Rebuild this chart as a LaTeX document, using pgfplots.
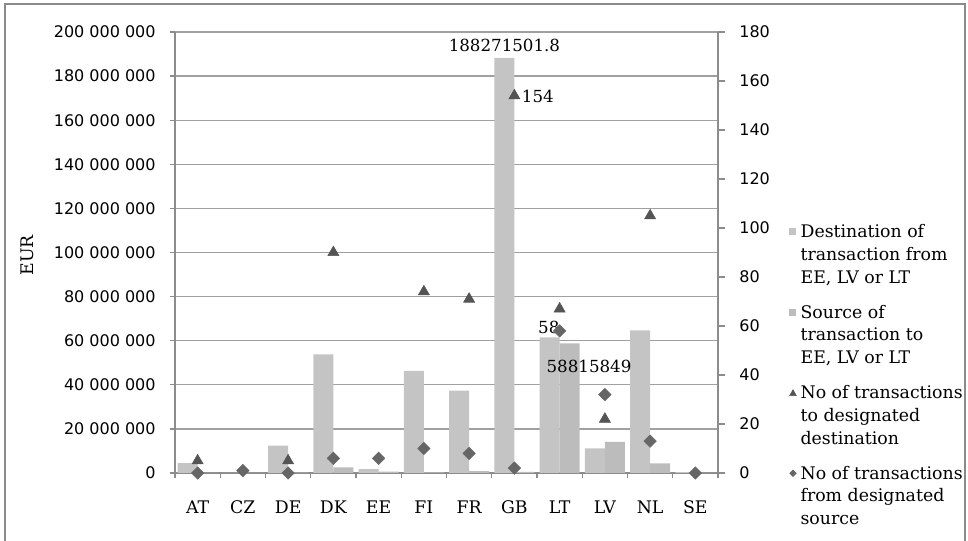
\documentclass[border=0pt]{standalone}
\usepackage{pgfplots}
\pgfplotsset{compat=1.18}
\usepackage{pgfplotstable}
\usepackage{fontspec}
\setmainfont{DejaVu Serif}
\newfontfamily\numfont{DejaVu Sans}

\definecolor{barA}{HTML}{C4C4C4}
\definecolor{barB}{HTML}{BCBCBC}
\definecolor{triC}{HTML}{545454}
\definecolor{diaC}{HTML}{666666}
\definecolor{gridC}{HTML}{A0A0A0}
\definecolor{axisC}{HTML}{8C8C8C}
\definecolor{frameC}{HTML}{8A8A8A}

% idx: AT CZ DE DK EE FI FR GB LT LV NL SE
\pgfplotstableread{
idx dest        src       to   from
0   4.5e6       0         5    0
1   0           0         nan  1
2   12.4e6      0.2e6     5    0
3   53.8e6      2.6e6     90   6
4   1.8e6       0.6e6     nan  6
5   46.3e6      0.3e6     74   10
6   37.3e6      0.8e6     71   8
7   188271501.8 0.5e6     154  2
8   61.5e6      58815849  67   58
9   11.2e6      14.1e6    22   32
10  64.7e6      4.4e6     105  13
11  0.4e6       0         nan  0
}\data

\begin{document}
\begin{tikzpicture}
\useasboundingbox (0,0) rectangle (726pt,405.75pt);
\draw[frameC, line width=1.5pt] (3.75pt,-3pt) rectangle (723.75pt,402.75pt);

\begin{axis}[
    scale only axis, width=407.25pt, height=330.75pt,
    at={(131.25pt,51pt)}, anchor=south west,
    xmin=-0.5, xmax=11.5, ymin=0, ymax=200e6,
    axis x line*=bottom, axis y line*=left,
    axis line style={axisC, line width=1pt},
    tick style={axisC, line width=1pt},
    tick align=outside, major tick length=4pt,
    xtick={-0.5,0.5,...,11.5}, xticklabels={},
    extra x ticks={0,1,2,3,4,5,6,7,8,9,10,11},
    extra x tick labels={AT,CZ,DE,DK,EE,FI,FR,GB,LT,LV,NL,SE},
    extra x tick style={major tick length=0pt},
    x tick label style={font=\fontsize{13}{15}\selectfont, yshift=-17.5pt},
    ytick={0,20e6,40e6,60e6,80e6,100e6,120e6,140e6,160e6,180e6,200e6},
    yticklabels={0,20 000 000,40 000 000,60 000 000,80 000 000,100 000 000,120 000 000,140 000 000,160 000 000,180 000 000,200 000 000},
    scaled y ticks=false,
    y tick label style={font=\numfont\fontsize{12}{14}\selectfont, xshift=-7pt},
    ymajorgrids=true, grid style={gridC, line width=1pt},
    ylabel={EUR},
    ylabel style={font=\fontsize{13}{15}\selectfont, at={(axis description cs:-0.2726,0.494)}, anchor=center},
    ybar=0pt, bar width=15pt,
]
\addplot[fill=barA, draw=none] table[x=idx, y=dest] {\data};
\addplot[fill=barB, draw=none] table[x=idx, y=src] {\data};
\node[font=\fontsize{12.5}{14}\selectfont, inner sep=0pt] at (axis cs:6.78,194.1e6) {188271501.8};
\node[font=\fontsize{12.5}{14}\selectfont, inner sep=0pt] at (axis cs:8.65,48.2e6) {58815849};
\end{axis}

\begin{axis}[
    scale only axis, width=407.25pt, height=330.75pt,
    at={(131.25pt,51pt)}, anchor=south west,
    xmin=-0.5, xmax=11.5, ymin=0, ymax=180,
    axis x line=none, axis y line*=right,
    axis line style={axisC, line width=1pt},
    tick style={axisC, line width=1pt},
    tick align=outside, major tick length=5pt,
    ytick={0,20,40,60,80,100,120,140,160,180},
    yticklabels={0,20,40,60,80,100,120,140,160,180},
    y tick label style={font=\numfont\fontsize{12}{14}\selectfont, xshift=7.5pt},
    legend style={at={(axis description cs:1.131,0.567)}, anchor=north west,
        draw=none, fill=none, inner sep=0pt, row sep=13pt, column sep=2pt,
        font=\fontsize{13}{17}\selectfont,
        cells={anchor=base west}, nodes={align=left, inner sep=1pt}},
]
\addlegendimage{legend image code/.code={\fill[barA] (0pt,36.25pt) rectangle (4.5pt,40.75pt);}}
\addlegendentry{Destination of\\transaction from\\EE, LV or LT}
\addlegendimage{legend image code/.code={\fill[barB] (0pt,36.25pt) rectangle (4.5pt,40.75pt);}}
\addlegendentry{Source of\\transaction to\\EE, LV or LT}
\addlegendimage{legend image code/.code={\fill[triC] (2.5pt,40.8pt) -- (0pt,36.3pt) -- (5pt,36.3pt) -- cycle;}}
\addlegendentry{No of transactions\\to designated\\destination}
\addlegendimage{legend image code/.code={\fill[diaC] (2.5pt,41pt) -- (0pt,38.5pt) -- (2.5pt,36pt) -- (5pt,38.5pt) -- cycle;}}
\addlegendentry{No of transactions\\from designated\\source}
\addplot[forget plot, only marks, mark=triangle*, mark size=4.8pt, color=triC] table[x=idx, y=to] {\data};
\addplot[forget plot, only marks, mark=square*, mark size=3.3pt, mark options={rotate=45}, color=diaC] table[x=idx, y=from] {\data};
\node[font=\fontsize{12.5}{14}\selectfont, inner sep=0pt, anchor=west, xshift=5.5pt] at (axis cs:7,153.5) {154};
\node[font=\fontsize{12.5}{14}\selectfont, inner sep=0pt, anchor=east] at (axis cs:8,59.5) {58};
\end{axis}
\end{tikzpicture}
\end{document}
